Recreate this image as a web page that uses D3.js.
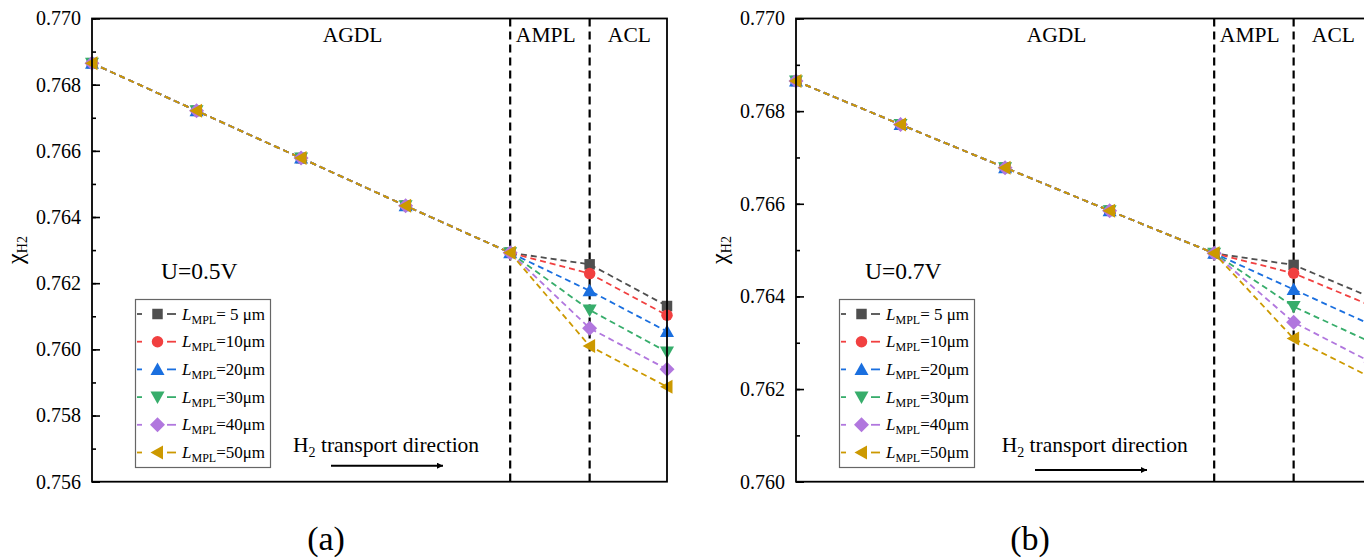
<!DOCTYPE html>
<html>
<head>
<meta charset="utf-8">
<script src="https://cdn.jsdelivr.net/npm/d3@7"></script>
<style>
  html, body { margin: 0; padding: 0; background: #fff; }
  svg { display: block; }
  text { font-family: "Liberation Serif", "Times New Roman", serif; fill: #000; }
</style>
</head>
<body>
<svg id="chart" width="1364" height="559"></svg>
<script>
// ---------------- DATA ----------------
// positions along the transport direction (µm-like units): GDL 0..200, MPL end, CL end
const xPositions = [0, 50, 100, 150, 200, 238, 275];
const layerBoundaries = [200, 238];
const layerNames = ["AGDL", "AMPL", "ACL"];
const layerLabelX = [124.6, 217, 257];

const seriesKeys = ["5", "10", "20", "30", "40", "50"];
const legendSuffix = ["= 5 μm", "=10μm", "=20μm", "=30μm", "=40μm", "=50μm"];

// Panel (a): U = 0.5 V
const a_L5  = [0.76865, 0.76721, 0.76578, 0.76434, 0.76292, 0.76257, 0.76131];
const a_L10 = [0.76865, 0.76721, 0.76578, 0.76434, 0.76292, 0.76229, 0.76103];
const a_L20 = [0.76865, 0.76721, 0.76578, 0.76434, 0.76292, 0.76177, 0.76054];
const a_L30 = [0.76865, 0.76721, 0.76578, 0.76434, 0.76292, 0.76119, 0.75992];
const a_L40 = [0.76865, 0.76721, 0.76578, 0.76434, 0.76292, 0.76064, 0.75940];
const a_L50 = [0.76865, 0.76721, 0.76578, 0.76434, 0.76292, 0.76010, 0.75887];

// Panel (b): U = 0.7 V
const b_L5  = [0.76865, 0.76771, 0.76678, 0.76585, 0.76493, 0.76468, 0.76398];
const b_L10 = [0.76865, 0.76771, 0.76678, 0.76585, 0.76493, 0.76450, 0.76380];
const b_L20 = [0.76865, 0.76771, 0.76678, 0.76585, 0.76493, 0.76415, 0.76339];
const b_L30 = [0.76865, 0.76771, 0.76678, 0.76585, 0.76493, 0.76378, 0.76301];
const b_L40 = [0.76865, 0.76771, 0.76678, 0.76585, 0.76493, 0.76344, 0.76258];
const b_L50 = [0.76865, 0.76771, 0.76678, 0.76585, 0.76493, 0.76309, 0.76225];

const a_ticks = [0.756, 0.758, 0.760, 0.762, 0.764, 0.766, 0.768, 0.770];
const b_ticks = [0.760, 0.762, 0.764, 0.766, 0.768, 0.770];

const panelTitles = ["U=0.5V", "U=0.7V"];
const panelLetters = ["(a)", "(b)"];

// ---------------- STYLE ----------------
const colors = ["#4f4f4f", "#f14040", "#1a6fdf", "#37ad6b", "#b177de", "#cc9900"];
const shapes = ["square", "circle", "up", "down", "diamond", "left"];

function markerPath(kind) {
  switch (kind) {
    case "square": return d3.symbol(d3.symbolSquare, 110)();
    case "circle": return d3.symbol(d3.symbolCircle, 104)();
    case "up": return "M0,-7L7,5.5L-7,5.5Z";
    case "down": return "M0,7L7,-5.5L-7,-5.5Z";
    case "left": return "M-7,0L5.5,-7L5.5,7Z";
    case "diamond": return "M0,-7.5L7.5,0L0,7.5L-7.5,0Z";
  }
}

const svg = d3.select("#chart");

const panels = [
  { left: 92, series: [a_L5, a_L10, a_L20, a_L30, a_L40, a_L50], ticks: a_ticks,
    domain: [0.756, 0.770], arrowY: 465.7, transX: 201, transY: 451.7 },
  { left: 796, series: [b_L5, b_L10, b_L20, b_L30, b_L40, b_L50], ticks: b_ticks,
    domain: [0.760, 0.770], arrowY: 470, transX: 205.7, transY: 451.7 }
];

const plotTop = 18.5, plotBottom = 481.7, plotW = 575;

svg.append("defs").append("marker")
  .attr("id", "arrowhead")
  .attr("viewBox", "0 0 10 10")
  .attr("refX", 10).attr("refY", 5)
  .attr("markerWidth", 10).attr("markerHeight", 6)
  .attr("markerUnits", "userSpaceOnUse")
  .attr("orient", "auto")
  .append("path").attr("d", "M0,0L10,5L0,10Z").attr("fill", "#000");

panels.forEach((p, pi) => {
  const g = svg.append("g").attr("transform", `translate(${p.left},0)`);
  const x = d3.scaleLinear().domain([0, 275]).range([0, plotW]);
  const y = d3.scaleLinear().domain(p.domain).range([plotBottom, plotTop]);

  // minor ticks
  const minor = d3.range(p.domain[0], p.domain[1] + 1e-9, 0.001);
  g.append("g").attr("class", "minor")
    .call(d3.axisLeft(y).tickValues(minor).tickSize(-4).tickFormat(""))
    .call(s => s.select(".domain").remove())
    .call(s => s.selectAll("line").attr("stroke", "#000").attr("stroke-width", 1.6));

  // major ticks
  const yAxis = g.append("g")
    .call(d3.axisLeft(y).tickValues(p.ticks).tickSize(-8).tickPadding(11).tickFormat(d3.format(".3f")));
  yAxis.select(".domain").remove();
  yAxis.selectAll("line").attr("stroke", "#000").attr("stroke-width", 1.6);
  yAxis.selectAll("text")
    .attr("font-family", "Liberation Serif")
    .attr("font-size", 20).attr("fill", "#000");

  // layer boundaries (dashed)
  g.selectAll(".bound").data(layerBoundaries).enter().append("line")
    .attr("x1", d => x(d)).attr("x2", d => x(d))
    .attr("y1", plotTop).attr("y2", plotBottom)
    .attr("stroke", "#000").attr("stroke-width", 2.2)
    .attr("stroke-dasharray", "8,5");

  // layer names
  g.selectAll(".lname").data(layerNames).enter().append("text")
    .attr("x", (d, i) => x(layerLabelX[i])).attr("y", 41.7)
    .attr("text-anchor", "middle").attr("font-size", 21.5).text(d => d);

  // series lines
  const line = d3.line().x((d, i) => x(xPositions[i])).y(d => y(d));
  p.series.forEach((vals, si) => {
    g.append("path").datum(vals)
      .attr("d", line)
      .attr("fill", "none")
      .attr("stroke", colors[si])
      .attr("stroke-width", 1.8)
      .attr("stroke-dasharray", "6,4");
  });
  // markers
  p.series.forEach((vals, si) => {
    g.selectAll(".m" + si).data(vals).enter().append("path")
      .attr("transform", (d, i) => `translate(${x(xPositions[i])},${y(d)})`)
      .attr("d", markerPath(shapes[si]))
      .attr("fill", colors[si]);
  });

  // frame
  g.append("rect").attr("x", 0).attr("y", plotTop).attr("width", plotW).attr("height", plotBottom - plotTop)
    .attr("fill", "none").attr("stroke", "#000").attr("stroke-width", 1.8);

  // y label
  const yl = g.append("text")
    .attr("transform", `translate(-69,250) rotate(-90)`)
    .attr("text-anchor", "middle").attr("font-size", 24);
  yl.append("tspan").text("χ");
  yl.append("tspan").attr("font-size", 14).attr("dy", 4).text("H2");

  // condition
  g.append("text").attr("x", 69).attr("y", 278.5).attr("font-size", 23.5).text(panelTitles[pi]);

  // legend
  const lg = g.append("g");
  lg.append("rect").attr("x", 43.5).attr("y", 299.5).attr("width", 135).attr("height", 168)
    .attr("fill", "#fff").attr("stroke", "#666").attr("stroke-width", 1.2);
  seriesKeys.forEach((k, si) => {
    const cy = 314 + si * 27.7;
    const row = lg.append("g");
    row.append("line").attr("x1", 45).attr("x2", 50).attr("y1", cy).attr("y2", cy)
      .attr("stroke", colors[si]).attr("stroke-width", 1.8);
    row.append("line").attr("x1", 75).attr("x2", 84).attr("y1", cy).attr("y2", cy)
      .attr("stroke", colors[si]).attr("stroke-width", 1.8);
    row.append("path").attr("transform", `translate(65.5,${cy})`)
      .attr("d", markerPath(shapes[si])).attr("fill", colors[si]);
    const t = row.append("text").attr("x", 90).attr("y", cy + 5.5).attr("font-size", 17);
    t.append("tspan").attr("font-style", "italic").text("L");
    t.append("tspan").attr("font-size", 12).attr("dy", 4).text("MPL");
    t.append("tspan").attr("dy", -4).text(legendSuffix[si]);
  });

  // transport direction
  const tt = g.append("text").attr("x", p.transX).attr("y", p.transY).attr("font-size", 21.5);
  tt.append("tspan").text("H");
  tt.append("tspan").attr("font-size", 14).attr("dy", 5).text("2");
  tt.append("tspan").attr("dy", -5).text(" transport direction");
  g.append("line").attr("x1", 239).attr("x2", 351).attr("y1", p.arrowY).attr("y2", p.arrowY)
    .attr("stroke", "#000").attr("stroke-width", 2).attr("marker-end", "url(#arrowhead)");

  // panel letter
  g.append("text").attr("x", 234).attr("y", 550).attr("text-anchor", "middle")
    .attr("font-size", 34).text(panelLetters[pi]);
});
</script>
</body>
</html>
